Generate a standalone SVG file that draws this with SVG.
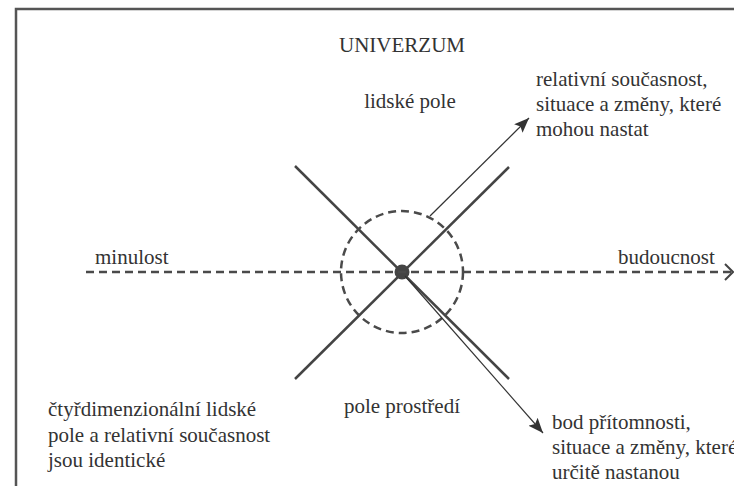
<svg xmlns="http://www.w3.org/2000/svg" width="734" height="486" viewBox="0 0 734 486">
<style>
text{font-family:'Liberation Serif','Times New Roman','DejaVu Serif',serif;font-size:21px;fill:#333}
.thick{stroke:#444;stroke-width:2.5;fill:none}
.dash{stroke:#4a4a4a;stroke-width:2.5;fill:none;stroke-dasharray:8 5}
.thin{stroke:#333;stroke-width:1.2;fill:none}
</style>
<defs>
<marker id="tri" markerUnits="userSpaceOnUse" markerWidth="16" markerHeight="12" refX="15" refY="6" orient="auto">
<path d="M0,0 L15,6 L0,12 L3,6 Z" fill="#333"/>
</marker>
<marker id="chev" markerUnits="userSpaceOnUse" markerWidth="12" markerHeight="18" refX="9" refY="9" orient="auto">
<path d="M1,1 L9,9 L1,17" fill="none" stroke="#444" stroke-width="2"/>
</marker>
</defs>
<rect width="734" height="486" fill="#fff"/>
<g id="frame">
<path d="M16,486 L16,9 L734,9" stroke="#555" stroke-width="2.5" fill="none"/>
</g>
<g font-family="Liberation Serif, Times New Roman, DejaVu Serif, serif" font-size="21">
<g id="title"><text x="402" y="52" text-anchor="middle">UNIVERZUM</text></g>
<g id="human-field-label"><text x="410" y="108" text-anchor="middle">lidské pole</text></g>
<g id="relative-present-label">
<text x="536" y="86">relativní současnost,</text>
<text x="536" y="111">situace a změny, které</text>
<text x="536" y="136">mohou nastat</text>
</g>
<g id="past-label"><text x="95" y="264">minulost</text></g>
<g id="future-label"><text x="618" y="264">budoucnost</text></g>
<g id="environment-label"><text x="402" y="413" text-anchor="middle">pole prostředí</text></g>
<g id="identity-note">
<text x="48" y="416">čtyřdimenzionální lidské</text>
<text x="48" y="442">pole a relativní současnost</text>
<text x="48" y="467">jsou identické</text>
</g>
<g id="present-point-label">
<text x="552" y="429">bod přítomnosti,</text>
<text x="552" y="454">situace a změny, které</text>
<text x="552" y="479">určitě nastanou</text>
</g>
</g>
<g id="field">
<line class="thick" x1="295" y1="166" x2="509" y2="379"/>
<line class="thick" x1="295" y1="379" x2="509" y2="167"/>
<circle class="dash" cx="402" cy="272" r="61"/>
<circle id="present-point" cx="402" cy="272" r="7.5" fill="#444"/>
</g>
<g id="connectors">
<line class="dash" x1="86" y1="272" x2="733" y2="272" marker-end="url(#chev)"/>
<line class="thin" x1="430" y1="216" x2="529" y2="118" marker-end="url(#tri)"/>
<line class="thin" x1="405" y1="276" x2="543" y2="433" marker-end="url(#tri)"/>
</g>
</svg>
